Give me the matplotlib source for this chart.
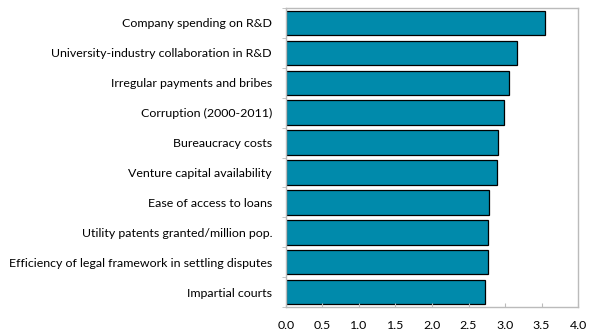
import numpy as np
import matplotlib.pyplot as plt

labels = ["Company spending on R&D",
          "University-industry collaboration in R&D",
          "Irregular payments and bribes",
          "Corruption (2000-2011)",
          "Bureaucracy costs",
          "Venture capital availability",
          "Ease of access to loans",
          "Utility patents granted/million pop.",
          "Efficiency of legal framework in settling disputes",
          "Impartial courts"]
values = [3.55, 3.17, 3.06, 2.99, 2.90, 2.89, 2.78, 2.77, 2.77, 2.73]
xticks = [0.0, 0.5, 1.0, 1.5, 2.0, 2.5, 3.0, 3.5, 4.0]

plt.rcParams['font.family'] = ['Lato', 'DejaVu Sans']

fig = plt.figure(figsize=(5.9, 3.32), dpi=100)
ax = fig.add_axes([0.4847, 0.0753, 0.495, 0.9005])

y = np.arange(len(labels))
ax.barh(y, values, height=0.82, color="#008aab", edgecolor="black", linewidth=0.9)

ax.set_ylim(len(labels) - 0.5, -0.5)
ax.set_xlim(0, 4)
ax.set_yticks(y)
ax.set_yticklabels(labels, fontsize=8.9)
ax.tick_params(axis="y", length=0, pad=10)
ax.set_yticks(np.arange(len(labels) + 1) - 0.5, minor=True)
ax.tick_params(axis="y", which="minor", length=3, color="#bbbbbb", direction="out")

ax.set_xticks(xticks)
ax.set_xticklabels([f"{v:.1f}" for v in xticks], fontsize=8.9)
ax.tick_params(axis="x", direction="in", length=3, color="#bbbbbb", pad=9)

for s in ax.spines.values():
    s.set_color("#bbbbbb")
    s.set_linewidth(1)

fig.savefig("out.png", dpi=100)
